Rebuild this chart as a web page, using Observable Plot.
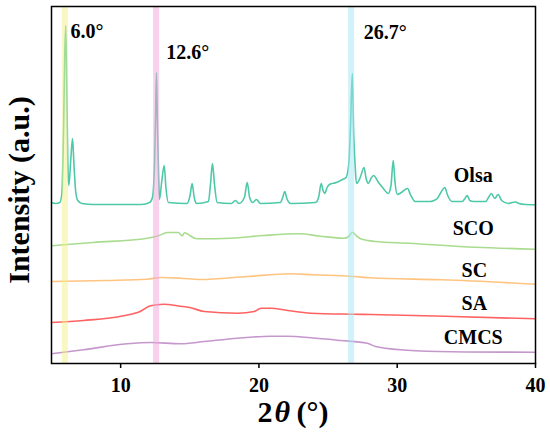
<!DOCTYPE html>
<html>
<head>
<meta charset="utf-8">
<script src="https://cdn.jsdelivr.net/npm/d3@7"></script>
<script src="https://cdn.jsdelivr.net/npm/@observablehq/plot@0.6"></script>
<style>
  html, body { margin: 0; padding: 0; background: #fff; }
</style>
</head>
<body>
<div id="chart"></div>
<script>
// 2θ (degrees), intensity (a.u., offset stacked)
const olsa = [[5.0,161],[5.3,160],[5.6,161],[5.75,170],[5.88,240],[5.96,310],[6.03,338],[6.1,280],[6.18,200],[6.25,178],[6.4,205],[6.52,225],[6.62,200],[6.75,172],[6.9,163],[7.2,160],[8,159],[10,159],[11.5,159],[12.1,161],[12.3,166],[12.45,200],[12.53,250],[12.59,291],[12.66,240],[12.74,190],[12.81,164],[12.97,182],[13.15,198],[13.28,175],[13.45,161],[14.8,160],[15.02,168],[15.17,180],[15.32,166],[15.5,160],[16.35,162],[16.5,180],[16.64,200],[16.78,180],[16.98,161],[18.0,160],[18.3,163],[18.55,160],[18.95,166],[19.15,181],[19.33,166],[19.55,161],[19.82,164],[20.1,160],[21.55,161],[21.72,166],[21.87,172],[22.02,165],[22.3,160],[24.1,161],[24.33,167],[24.5,180],[24.64,173],[24.76,170],[24.93,176],[25.1,179],[25.6,181],[26.05,184],[26.3,186],[26.5,200],[26.62,236],[26.75,290],[26.85,230],[26.95,200],[27.05,180],[27.15,181],[27.35,187],[27.6,196],[27.75,185],[27.92,180],[28.1,185],[28.3,188],[28.6,182],[29.0,175],[29.35,170],[29.55,178],[29.71,203],[29.85,180],[30.0,169],[30.3,171],[30.75,175],[30.95,169],[31.3,162],[32.4,162],[32.64,163],[32.9,165],[33.2,172],[33.44,176],[33.65,168],[33.97,162],[34.7,162],[34.9,165],[35.06,168],[35.25,163],[35.5,162],[36.4,162],[36.6,166],[36.81,170],[37.05,165],[37.3,169],[37.55,163],[38.04,160],[38.3,161],[38.55,161.5],[38.8,160],[39.3,159],[40,158.7]];
const sco = [[5,117.7],[8,121],[11.92,125.3],[12.8,128],[13.37,131],[14.18,131],[14.45,127.7],[14.62,130.7],[14.9,129],[15.4,125],[15.77,124.7],[17.95,125.3],[20.35,128],[22.9,129.7],[24.45,127.3],[26.14,125.3],[26.5,127],[26.75,131.3],[27.1,127],[27.35,124.7],[28.4,122],[30.8,120.3],[35.66,116.3],[40,114.3]];
const sc = [[5,82],[9,83],[11.92,84.3],[12.9,86],[14.33,85.3],[15.77,84],[19.15,87],[22.28,89.7],[23.97,88.7],[26.86,87],[28.07,85.7],[33.25,83.7],[40,79.3]];
const sa = [[5,41],[7.31,43],[10.2,47.7],[11.4,52],[12.16,57.7],[13.1,59.3],[14.33,57.3],[15.0,56],[16.05,52],[18.46,50.3],[19.66,52],[20.15,55.3],[20.87,55.3],[22.07,53],[23.76,50.3],[26.86,49.3],[28.07,49],[34,47],[40,44.7]];
const cmcs = [[5,9.7],[7.31,13.7],[10.47,19.7],[12.16,21],[14.33,19.7],[16.05,22],[18.46,25.3],[20.87,27.3],[22.07,27.3],[23.76,25.7],[25.9,23],[27.83,20.3],[28.43,17],[31.3,12.7],[35,11.5],[40,11.3]];

const seriesNames = ["Olsa", "SCO", "SC", "SA", "CMCS"];
const seriesColors = ["#4ec9a8", "#a9dc8f", "#ffc480", "#ff6262", "#c597cc"];
const labelAt = [[35.5,188],[35.5,135],[35.58,93],[35.58,60],[35.5,26]];

const peakPositions = [6.0, 12.6, 26.7];
const peakLabels = ["6.0°", "12.6°", "26.7°"];
const peakLabelAt = [[6.37,332],[13.29,311],[27.58,331]];
const bandColors = ["#f3f08a", "#f2a6dc", "#a6e6f6"];
const xTicks = [10, 20, 30, 40];

const serif = "'Liberation Serif', 'Times New Roman', serif";
const allSeries = [olsa, sco, sc, sa, cmcs];

const lines = allSeries.map((s, i) => Plot.line(s, {
  x: d => d[0], y: d => d[1], stroke: seriesColors[i], strokeWidth: 1.6, curve: "monotone-x"
}));

const bands = peakPositions.map((p, i) => ({x1: p - 0.22, x2: p + 0.22, c: bandColors[i]}));

const chart = Plot.plot({
  width: 550,
  height: 432,
  marginLeft: 51,
  marginRight: 15,
  marginTop: 6,
  marginBottom: 69,
  style: {fontFamily: serif, fontWeight: "bold", fontSize: "20px", color: "#000", background: "#fff"},
  x: {domain: [5, 40]},
  y: {domain: [0, 357], axis: null},
  marks: [
    ...lines,
    Plot.rect(bands, {x1: "x1", x2: "x2", fill: "c", fillOpacity: 0.5}),
    Plot.frame({stroke: "#000", strokeWidth: 1.5}),
    Plot.axisX({ticks: xTicks, tickSize: 5, tickPadding: 9, label: null, fontSize: 20, fontWeight: "bold", strokeWidth: 1.5}),
    Plot.text(seriesNames, {x: (d, i) => labelAt[i][0], y: (d, i) => labelAt[i][1], text: d => d, fontSize: 20, fontWeight: "bold", fill: "#000"}),
    Plot.text(peakLabels, {x: (d, i) => peakLabelAt[i][0], y: (d, i) => peakLabelAt[i][1], text: d => d, textAnchor: "start", fontSize: 20, fontWeight: "bold", fill: "#000"}),
    Plot.text(["Intensity (a.u.)"], {frameAnchor: "left", textAnchor: "middle", lineAnchor: "middle", rotate: -90, dx: -32, dy: 5, fontSize: 30, fontWeight: "bold", fill: "#000"}),
    Plot.text(["2"], {frameAnchor: "bottom", textAnchor: "start", lineAnchor: "middle", dx: -36, dy: 49, fontSize: 30, fontWeight: "bold", fill: "#000"}),
    Plot.text(["θ"], {frameAnchor: "bottom", textAnchor: "start", lineAnchor: "middle", dx: -19, dy: 49, fontSize: 30, fontWeight: "bold", fontStyle: "italic", fill: "#000"}),
    Plot.text(["(°)"], {frameAnchor: "bottom", textAnchor: "start", lineAnchor: "middle", dx: 3, dy: 49, fontSize: 30, fontWeight: "bold", fill: "#000"})
  ]
});
document.getElementById("chart").appendChild(chart);
</script>
</body>
</html>
